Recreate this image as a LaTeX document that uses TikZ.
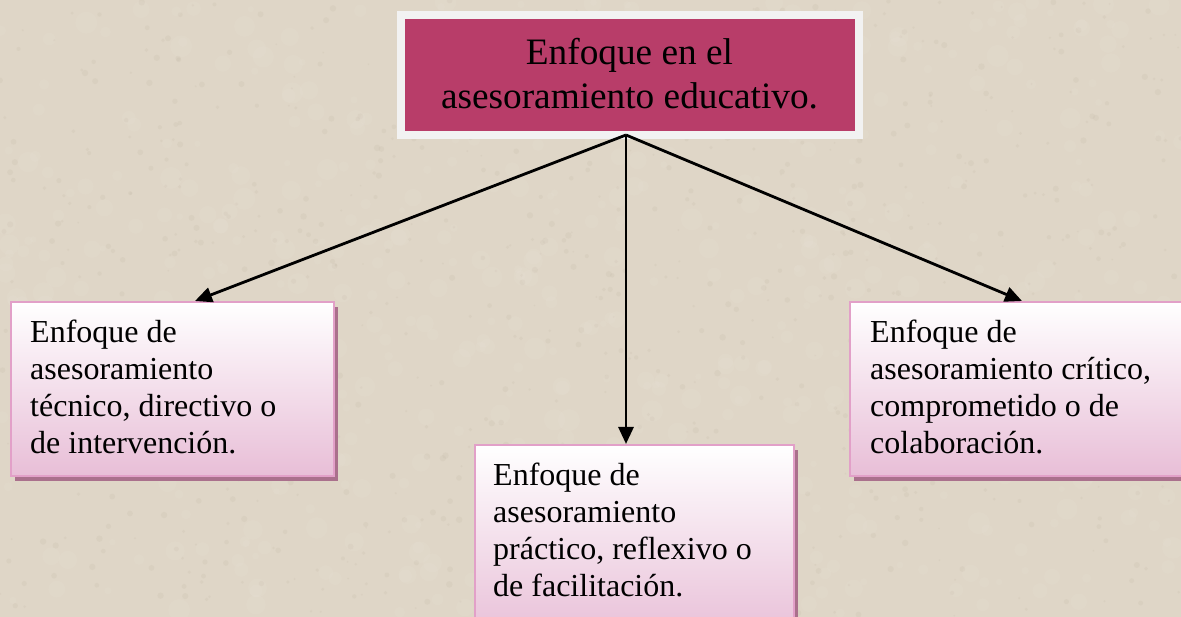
\documentclass[tikz,border=0pt]{standalone}
\usepackage{fontspec}
\setmainfont{Liberation Serif}
\usetikzlibrary{arrows.meta,shadows}
\definecolor{paper}{RGB}{223,214,199}
\definecolor{speckd}{RGB}{196,186,168}
\definecolor{speckl}{RGB}{238,232,222}
\definecolor{magent}{RGB}{184,61,105}
\definecolor{frame}{RGB}{242,242,242}
\definecolor{pinkline}{RGB}{226,160,200}
\definecolor{pinkbot}{RGB}{232,190,215}
\definecolor{shade}{RGB}{170,112,140}
\tikzset{
  topbox/.style={draw=frame, line width=8pt, fill=magent, minimum width=458pt, minimum height=120pt, inner sep=0pt},
  subbox/.style={draw=pinkline, line width=2pt, top color=white, bottom color=pinkbot, anchor=north west, inner sep=0pt,
    drop shadow={shadow xshift=4pt, shadow yshift=-5pt, fill=shade, opacity=1}},
  toptext/.style={anchor=north, inner sep=0pt, align=center, font=\fontsize{37.3}{43.4}\selectfont},
  subtext/.style={anchor=north west, inner sep=0pt, align=left, font=\fontsize{32}{37}\selectfont},
  arr/.style={line width=2.8pt, -{Triangle[length=17pt,width=15pt]}}
}
\begin{document}
\begin{tikzpicture}[x=1pt,y=-1pt]
\useasboundingbox (0,0) rectangle (1181,617);
\fill[paper] (0,0) rectangle (1181,617);
\clip (0,0) rectangle (1181,617);
\pgfmathsetseed{7}
\foreach \i in {1,...,900}{
  \pgfmathsetmacro\xx{rnd*1181}
  \pgfmathsetmacro\yy{rnd*617}
  \pgfmathsetmacro\rr{0.8+rnd*2.5}
  \fill[speckd, opacity=0.2] (\xx,\yy) circle[radius=\rr pt];
}
\foreach \i in {1,...,600}{
  \pgfmathsetmacro\xx{rnd*1181}
  \pgfmathsetmacro\yy{rnd*617}
  \pgfmathsetmacro\rr{3+rnd*8}
  \fill[speckl, opacity=0.12] (\xx,\yy) circle[radius=\rr pt];
}
\node[topbox] (top) at (630,75) {};
\node[toptext] (toptxt) at (629.5,38.5) {Enfoque en el\\asesoramiento educativo.};
\coordinate (src) at (626,135);
\node[subbox, minimum width=323pt, minimum height=174pt] (lbox) at (10,301) {};
\node[subbox, minimum width=319pt, minimum height=196pt] (mbox) at (474,444) {};
\node[subbox, minimum width=346pt, minimum height=174pt] (rbox) at (849,301) {};
\node[subtext] (ltxt) at ([xshift=20pt,yshift=-18.6pt]lbox.north west) {Enfoque de\\asesoramiento\\técnico, directivo o\\de intervención.};
\node[subtext] (mtxt) at ([xshift=19pt,yshift=-19.1pt]mbox.north west) {Enfoque de\\asesoramiento\\práctico, reflexivo o\\de facilitación.};
\node[subtext] (rtxt) at ([xshift=21pt,yshift=-18.6pt]rbox.north west) {Enfoque de\\asesoramiento crítico,\\comprometido o de\\colaboración.};
\draw[arr] (src) -- ([xshift=185pt]lbox.north west);
\draw[arr] (src) -- ([xshift=152pt]mbox.north west);
\draw[arr] (src) -- ([xshift=173pt]rbox.north west);
\end{tikzpicture}
\end{document}
